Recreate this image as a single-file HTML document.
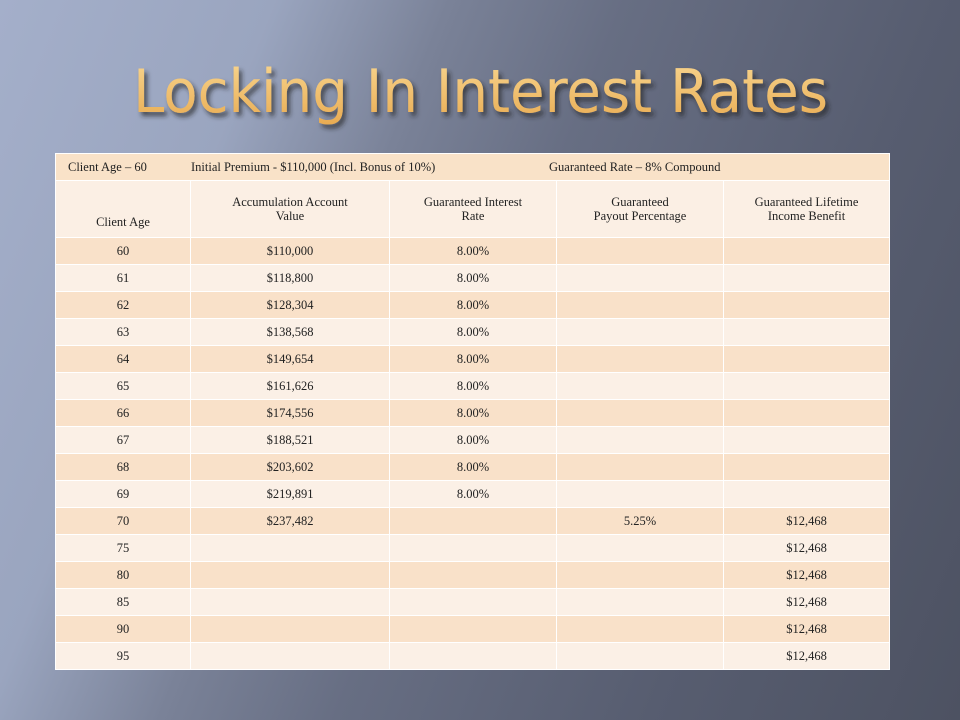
<!DOCTYPE html>
<html><head><meta charset="utf-8"><style>
body{margin:0;width:960px;height:720px;overflow:hidden;position:relative;
background:linear-gradient(112deg,#a4afca 0%,#9aa5bf 22%,#7a8298 36%,#676e83 50%,#575d70 75%,#4d5262 100%);
font-family:"Liberation Serif",serif;}
#title{position:absolute;left:0;top:0}
table{position:absolute;left:55px;top:153px;width:834px;border-collapse:collapse;table-layout:fixed;font-size:12.5px;color:#222}
td{border:1px solid #fff;text-align:center;padding:0;height:26px}
tr.top td{background:#f9e2c8;text-align:left;height:26px}
tr.hd td{background:#fbefe4;height:48px;line-height:14px}
tr.d td{background:#f9e1c9}
tr.l td{background:#fbf0e6}
</style></head><body>
<svg id="title" width="960" height="150">
<defs><linearGradient id="tg" x1="0" y1="0" x2="0" y2="1"><stop offset="0" stop-color="#f8d690"/><stop offset="1" stop-color="#e8aa50"/></linearGradient>
<filter id="sh"><feDropShadow dx="3" dy="4" stdDeviation="2.5" flood-color="#222" flood-opacity="0.7"/></filter></defs>
<text x="133" y="112" textLength="695" lengthAdjust="spacingAndGlyphs" font-family="'DejaVu Sans Condensed','Liberation Sans Narrow','DejaVu Sans',sans-serif" font-size="60" fill="url(#tg)" filter="url(#sh)">Locking In Interest Rates</text>
</svg>
<table>
<colgroup><col style="width:135px"><col style="width:199px"><col style="width:167px"><col style="width:167px"><col style="width:166px"></colgroup>
<tr class="top"><td colspan="5" style="position:relative"><span style="position:absolute;left:12px;top:6px">Client Age – 60</span><span style="position:absolute;left:135px;top:6px">Initial Premium - $110,000 (Incl. Bonus of 10%)</span><span style="position:absolute;left:493px;top:6px">Guaranteed Rate – 8% Compound</span></td></tr>
<tr class="hd"><td style="vertical-align:bottom;padding-bottom:8px">Client Age</td><td>Accumulation Account<br>Value</td><td>Guaranteed Interest<br>Rate</td><td>Guaranteed<br>Payout Percentage</td><td>Guaranteed Lifetime<br>Income Benefit</td></tr>
<tbody id="tb"></tbody>
</table>
<script>
const ages=[60,61,62,63,64,65,66,67,68,69,70,75,80,85,90,95];
const accum=["$110,000","$118,800","$128,304","$138,568","$149,654","$161,626","$174,556","$188,521","$203,602","$219,891","$237,482","","","","",""];
const rates=["8.00%","8.00%","8.00%","8.00%","8.00%","8.00%","8.00%","8.00%","8.00%","8.00%","","","","","",""];
const payout=["","","","","","","","","","","5.25%","","","","",""];
const income=["","","","","","","","","","","$12,468","$12,468","$12,468","$12,468","$12,468","$12,468"];
const tb=document.getElementById('tb');
ages.forEach((a,i)=>{
 const tr=document.createElement('tr');
 tr.className=i%2?'l':'d';
 
 
 [a,accum[i],rates[i],payout[i],income[i]].forEach(v=>{
  const td=document.createElement('td');
  
  
  td.textContent=v;tr.appendChild(td);
 });
 tb.appendChild(tr);
});
</script>
</body></html>
